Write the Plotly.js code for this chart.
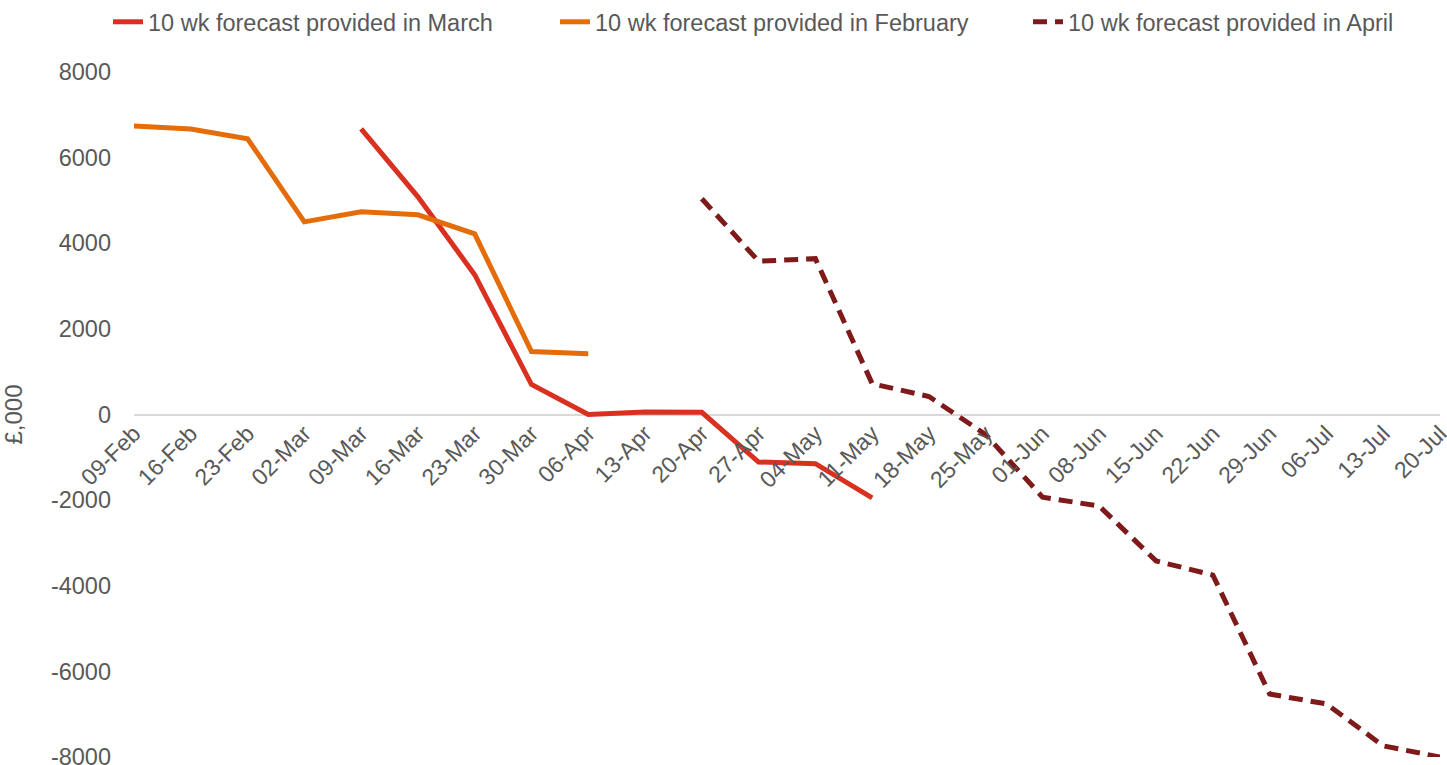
<!DOCTYPE html>
<html>
<head>
<meta charset="utf-8">
<script src="https://cdn.plot.ly/plotly-3.0.1.min.js"></script>
<style>html,body{margin:0;padding:0;background:#fff;}#chart{width:1447px;height:765px;}</style>
</head>
<body>
<div id="chart"></div>
<script>
var weeks = ["09-Feb","16-Feb","23-Feb","02-Mar","09-Mar","16-Mar","23-Mar","30-Mar","06-Apr","13-Apr","20-Apr","27-Apr","04-May","11-May","18-May","25-May","01-Jun","08-Jun","15-Jun","22-Jun","29-Jun","06-Jul","13-Jul","20-Jul"];
var forecastMarch = [null,null,null,null,6670,5085,3265,700,0,60,50,-1110,-1150,-1950,null,null,null,null,null,null,null,null,null,null];
var forecastFebruary = [6740,6670,6440,4500,4735,4665,4220,1470,1420,null,null,null,null,null,null,null,null,null,null,null,null,null,null,null];
var forecastApril = [null,null,null,null,null,null,null,null,null,null,5040,3580,3640,720,420,-470,-1930,-2140,-3420,-3750,-6530,-6760,-7740,-8000];
var yTickVals = [8000,6000,4000,2000,0,-2000,-4000,-6000,-8000];
var yTickText = ["8000","6000","4000","2000","0","-2000","-4000","-6000","-8000"];

var font = "Liberation Sans, Arial, sans-serif";
var grey = "#595959";
var traces = [
  {x: weeks, y: forecastMarch, name: "10 wk forecast provided in March", type: "scatter", mode: "lines",
   line: {color: "#d9301f", width: 5}, connectgaps: false, legend: "legend"},
  {x: weeks, y: forecastFebruary, name: "10 wk forecast provided in February", type: "scatter", mode: "lines",
   line: {color: "#e46c0a", width: 5}, connectgaps: false, legend: "legend2"},
  {x: weeks, y: forecastApril, name: "10 wk forecast provided in April", type: "scatter", mode: "lines",
   line: {color: "#7f1a1a", width: 5, dash: "14px,8px"}, connectgaps: false, legend: "legend3"}
];
function leg(px) {
  return {orientation: "h", xref: "container", x: px / 1447, xanchor: "left",
          yref: "container", y: 1.0, yanchor: "top",
          font: {family: font, size: 23.5, color: grey}, bgcolor: "rgba(0,0,0,0)"};
}
var layout = {
  width: 1447, height: 765,
  margin: {l: 134, r: 7, t: 72, b: 8, autoexpand: false},
  paper_bgcolor: "#ffffff", plot_bgcolor: "#ffffff",
  font: {family: font, size: 23, color: grey},
  showlegend: true,
  legend: leg(108), legend2: leg(555), legend3: leg(1028),
  xaxis: {type: "category", range: [0, 23], anchor: "free", position: 0.5,
          showgrid: false, zeroline: false, showline: false, ticks: "",
          tickangle: -45, tickfont: {family: font, size: 23, color: grey}},
  yaxis: {range: [-8000, 8000], tickvals: yTickVals, ticktext: yTickText,
          showgrid: false, zeroline: true, zerolinecolor: "#d9d9d9", zerolinewidth: 2,
          showline: false, ticks: "", ticklabelstandoff: 22, ticklabeloverflow: "allow",
          tickfont: {family: font, size: 23.5, color: grey},
          title: {text: "£,000", font: {family: font, size: 24, color: grey}, standoff: 24}}
};
Plotly.newPlot("chart", traces, layout, {displayModeBar: false, staticPlot: true});
</script>
</body>
</html>
